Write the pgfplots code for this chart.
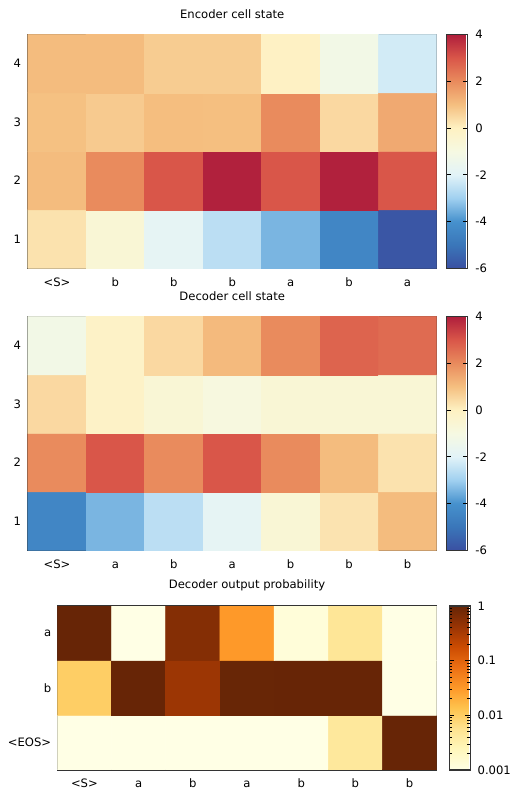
\documentclass[border=0pt]{standalone}
\usepackage{fontspec}
\setmainfont{DejaVu Sans}
\usepackage{pgfplots}
\usepackage{pgfplotstable}
\pgfplotsset{compat=1.18}

\pgfplotsset{
  colormap={rdylbu}{
    rgb255=(58,80,162) rgb255=(58,118,185) rgb255=(70,145,205)
    rgb255=(160,208,240) rgb255=(226,243,248) rgb255=(246,249,226)
    rgb255=(254,241,194) rgb255=(245,191,128) rgb255=(233,139,93)
    rgb255=(217,86,73) rgb255=(175,30,60)},
  colormap={ylorbr}{
    rgb255=(255,255,229) rgb255=(255,247,188) rgb255=(254,227,145)
    rgb255=(254,196,79) rgb255=(254,153,41) rgb255=(236,112,20)
    rgb255=(204,76,2) rgb255=(153,52,4) rgb255=(102,37,6)},
  heat/.style={
    scale only axis,
    anchor=south west,
    axis line style={black!80, line width=0.8pt},
    major tick length=0pt, minor tick length=0pt,
    font=\fontsize{8.7}{10}\selectfont,
    /pgf/number format/assume math mode=true,
    enlargelimits=false,
    title style={at={(0.5,1)}, anchor=center, yshift=9.3pt, font=\fontsize{8.7}{10}\selectfont},
    xtick={0,...,6},
    xticklabel style={anchor=base, inner sep=0pt, yshift=-13.3pt},
    yticklabel style={anchor=east, inner sep=0pt, xshift=-4.8pt},
    xmin=-0.5, xmax=6.5,
    colorbar,
  },
  cbstyle/.style={
    scale only axis,
    at={(parent axis.north east)}, anchor=north west,
    axis line style={black!80, line width=0.8pt},
    tick align=inside,
    ytick pos=both, yticklabel pos=right,
    major tick length=3.5pt, minor tick length=2pt,
    tick style={black, line width=0.6pt},
    yticklabel style={anchor=west, inner sep=0pt, xshift=5.5pt, font=\fontsize{8.7}{10}\selectfont},
  },
}

\pgfplotstableread{
x y c
0 1 0.30
1 1 -0.60
2 1 -1.80
3 1 -2.59
4 1 -3.42
5 1 -4.40
6 1 -5.85
0 2 1.06
1 2 2.00
2 2 3.00
3 2 3.95
4 2 3.00
5 2 3.95
6 2 3.00
0 3 0.97
1 3 0.78
2 3 1.02
3 3 1.00
4 3 2.00
5 3 0.50
6 3 1.42
0 4 1.06
1 4 1.06
2 4 0.74
3 4 0.74
4 4 -0.05
5 4 -1.20
6 4 -2.24
}\enc

\pgfplotstableread{
x y c
0 1 -4.40
1 1 -3.42
2 1 -2.59
3 1 -1.80
4 1 -0.60
5 1 0.28
6 1 1.06
0 2 2.00
1 2 3.00
2 2 2.00
3 2 3.00
4 2 2.00
5 2 1.06
6 2 0.30
0 3 0.50
1 3 -0.15
2 3 -0.60
3 3 -0.90
4 3 -0.60
5 3 -0.60
6 3 -0.60
0 4 -1.20
1 4 -0.15
2 4 0.50
3 4 1.10
4 4 2.00
5 4 2.75
6 4 2.60
}\dec

\pgfplotstableread{
x y p
0 0 0.001
1 0 0.001
2 0 0.001
3 0 0.001
4 0 0.001
5 0 0.0045
6 0 0.99
0 1 0.01
1 1 0.99
2 1 0.4
3 1 0.97
4 1 0.99
5 1 0.99
6 1 0.001
0 2 0.99
1 2 0.001
2 2 0.6
3 2 0.032
4 2 0.0013
5 2 0.005
6 2 0.001
}\prob

\begin{document}
\begin{tikzpicture}
\path[use as bounding box] (0,0) rectangle (384pt,591.75pt);

\begin{axis}[heat,
  at={(20.8pt,390.5pt)}, width=306.75pt, height=175.5pt,
  title={Encoder cell state},
  xticklabels={<S>,b,b,b,a,b,a},
  ymin=0.5, ymax=4.5, ytick={1,2,3,4}, yticklabels={1,2,3,4},
  colormap name=rdylbu, point meta min=-6, point meta max=4,
  colorbar style={cbstyle, xshift=-1pt, width=15.75pt,
    ytick={-6,-4,-2,0,2,4}, yticklabels={-6,-4,-2,0,2,4}},
]
\addplot[matrix plot*, mesh/cols=7, point meta=explicit] table[x=x, y=y, meta=c] {\enc};
\end{axis}

\begin{axis}[heat,
  at={(20.8pt,179pt)}, width=306.75pt, height=175.5pt,
  title={Decoder cell state},
  xticklabels={<S>,a,b,a,b,b,b},
  ymin=0.5, ymax=4.5, ytick={1,2,3,4}, yticklabels={1,2,3,4},
  colormap name=rdylbu, point meta min=-6, point meta max=4,
  colorbar style={cbstyle, xshift=-1pt, width=15.75pt,
    ytick={-6,-4,-2,0,2,4}, yticklabels={-6,-4,-2,0,2,4}},
]
\addplot[matrix plot*, mesh/cols=7, point meta=explicit] table[x=x, y=y, meta=c] {\dec};
\end{axis}

\begin{axis}[heat,
  at={(43pt,14.25pt)}, width=284.5pt, height=123pt,
  title={Decoder output probability},
  xticklabels={<S>,a,b,a,b,b,b},
  ymin=-0.5, ymax=2.5, ytick={0,1,2}, yticklabels={<EOS>,b,a},
  yticklabel style={xshift=0.4pt},
  colormap name=ylorbr, point meta min=-3, point meta max=0,
  colorbar style={cbstyle, xshift=1pt, width=15.5pt,
    ytick={-3,-2,-1,0}, yticklabels={0.001,0.01,0.1,1},
    minor ytick={-2.69897,-2.52288,-2.39794,-2.30103,-2.22185,-2.15490,-2.09691,-2.04576,
                 -1.69897,-1.52288,-1.39794,-1.30103,-1.22185,-1.15490,-1.09691,-1.04576,
                 -0.69897,-0.52288,-0.39794,-0.30103,-0.22185,-0.15490,-0.09691,-0.04576}},
]
\addplot[matrix plot*, mesh/cols=7, point meta={log10(\thisrow{p})}] table[x=x, y=y] {\prob};
\end{axis}
\end{tikzpicture}
\end{document}
